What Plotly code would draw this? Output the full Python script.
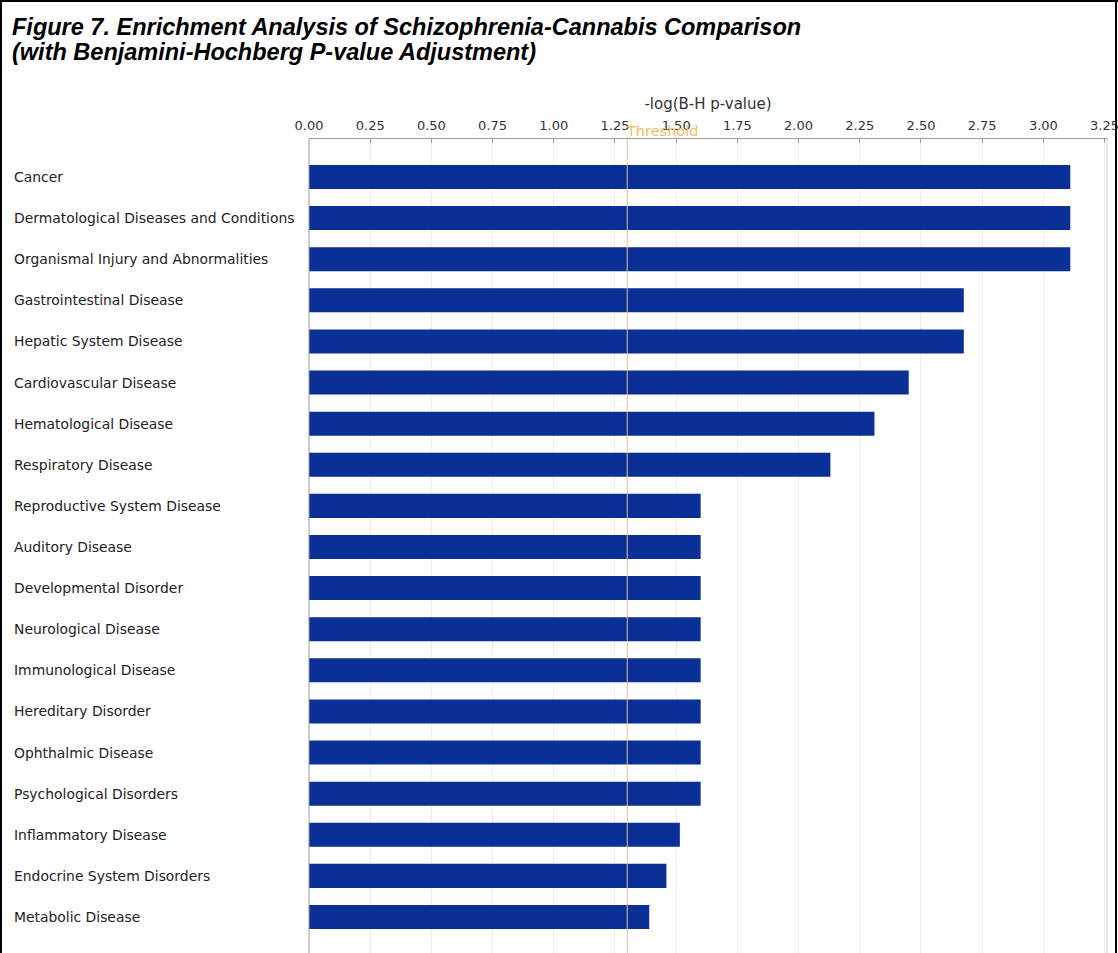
import plotly.graph_objects as go

categories = [
    "Cancer",
    "Dermatological Diseases and Conditions",
    "Organismal Injury and Abnormalities",
    "Gastrointestinal Disease",
    "Hepatic System Disease",
    "Cardiovascular Disease",
    "Hematological Disease",
    "Respiratory Disease",
    "Reproductive System Disease",
    "Auditory Disease",
    "Developmental Disorder",
    "Neurological Disease",
    "Immunological Disease",
    "Hereditary Disorder",
    "Ophthalmic Disease",
    "Psychological Disorders",
    "Inflammatory Disease",
    "Endocrine System Disorders",
    "Metabolic Disease",
]
values = [3.11, 3.11, 3.11, 2.675, 2.675, 2.45, 2.31, 2.13, 1.60, 1.60, 1.60,
          1.60, 1.60, 1.60, 1.60, 1.60, 1.515, 1.46, 1.39]
threshold = 1.30
tick_vals = [0, 0.25, 0.5, 0.75, 1.0, 1.25, 1.5, 1.75, 2.0, 2.25, 2.5, 2.75, 3.0, 3.25]
tick_text = ["%.2f" % v for v in tick_vals]
title_lines = ["Figure 7. Enrichment Analysis of Schizophrenia-Cannabis Comparison",
               "(with Benjamini-Hochberg P-value Adjustment)"]

W, H = 1118, 953
L, R, T, B = 309, 1107, 139, 953

pw, ph = R - L, B - T
def px(xp):
    return (xp - L) / pw
def py(yp):
    return (B - yp) / ph

fig = go.Figure()
fig.add_trace(go.Bar(
    x=values, y=categories, orientation="h",
    marker=dict(color="#0a2f96", line=dict(width=0)),
    width=0.585, showlegend=False, hoverinfo="x+y",
))

label_font = dict(family="DejaVu Sans", size=13.9, color="#222222")
annotations = []
for c in categories:
    annotations.append(dict(
        x=0, xref="paper", y=c, yref="y", text=c, showarrow=False,
        xanchor="left", xshift=-(L - 12), font=label_font,
    ))
annotations.append(dict(
    x=threshold, xref="x", y=1, yref="paper", yshift=-2, yanchor="bottom",
    text="Threshold", showarrow=False, xanchor="left", xshift=-3,
    font=dict(family="DejaVu Sans", size=14.5, color="#f3bd62"),
))
for i, (line, ypx) in enumerate(zip(title_lines, [27, 52])):
    annotations.append(dict(
        x=px(10), xref="paper", y=py(ypx), yref="paper", xanchor="left",
        yanchor="middle", showarrow=False, text="<b><i>%s</i></b>" % line,
        font=dict(family="Liberation Sans", size=23.5, color="#000000"),
    ))

shapes = [
    dict(type="line", xref="x", yref="paper", x0=threshold, x1=threshold,
         y0=0, y1=1, line=dict(color="#e2c290", width=1)),
    dict(type="line", xref="paper", yref="paper", x0=1, x1=1, y0=0, y1=1,
         line=dict(color="#c8c8c8", width=1)),
    dict(type="line", xref="paper", yref="paper", x0=0, x1=0, y0=0, y1=1,
         line=dict(color="#9a9a9a", width=1)),
    # outer frame
    dict(type="line", xref="paper", yref="paper", x0=px(1), x1=px(1),
         y0=py(0), y1=py(953), line=dict(color="#000000", width=2)),
    dict(type="line", xref="paper", yref="paper", x0=px(0), x1=px(1118),
         y0=py(1), y1=py(1), line=dict(color="#000000", width=2)),
    dict(type="line", xref="paper", yref="paper", x0=px(1116), x1=px(1116),
         y0=py(0), y1=py(953), line=dict(color="#000000", width=2)),
]

fig.update_layout(
    width=W, height=H,
    margin=dict(l=L, r=W - R, t=T, b=H - B, pad=0),
    paper_bgcolor="white", plot_bgcolor="white",
    xaxis=dict(
        side="top", range=[0, 3.26], tickvals=tick_vals, ticktext=tick_text,
        showgrid=True, gridcolor="#ededed", gridwidth=1,
        showline=True, linecolor="#9a9a9a", linewidth=1,
        ticks="inside", ticklen=4, tickcolor="#9a9a9a",
        ticklabelstandoff=3, ticklabeloverflow="allow",
        tickfont=dict(family="DejaVu Sans", size=13, color="#333333"),
        title=dict(text="-log(B-H p-value)", standoff=4,
                   font=dict(family="DejaVu Sans", size=15, color="#333333")),
        zeroline=False, fixedrange=True,
    ),
    yaxis=dict(
        range=[18.876, -0.924], showticklabels=False, ticks="",
        showgrid=False, zeroline=False, showline=False, fixedrange=True,
    ),
    annotations=annotations,
    shapes=shapes,
)

fig.write_html("out.html", config={"displayModeBar": False},
               post_script="document.body.style.margin='0px';document.body.style.overflow='hidden';")
